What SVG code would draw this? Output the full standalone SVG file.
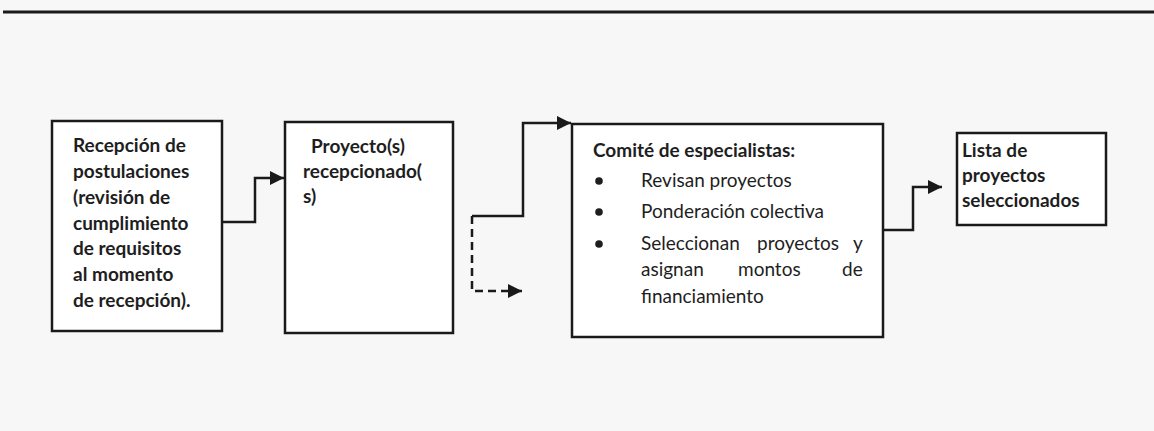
<svg xmlns="http://www.w3.org/2000/svg" width="1154" height="431" viewBox="0 0 1154 431">
<defs>
<style>
.bg{fill:#f7f7f7}
.box{fill:#ffffff;stroke:#1a1a1a;stroke-width:2.5}
.t{font-family:Lato,"Liberation Sans",sans-serif;font-size:19px;fill:#1e1e1e}
.b{font-weight:bold}
.c{fill:none;stroke:#1a1a1a;stroke-width:2.5}
.d{stroke-dasharray:8 5}
</style>
<marker id="ah" viewBox="0 0 10 10" refX="10" refY="5" markerWidth="15" markerHeight="14" markerUnits="userSpaceOnUse" orient="auto">
<path d="M0,0 L10,5 L0,10 Z" fill="#1a1a1a"/>
</marker>
</defs>
<rect class="bg" x="0" y="0" width="1154" height="431"/>
<line x1="3" y1="12" x2="1154" y2="12" stroke="#1a1a1a" stroke-width="3"/>
<g id="connectors">
<path class="c" d="M222,222 H255 V178 H284" marker-end="url(#ah)"/>
<path class="c" d="M472,216 H523 V123 H571" marker-end="url(#ah)"/>
<path class="c d" d="M472,216 V291 H522" marker-end="url(#ah)"/>
<path class="c" d="M883,230 H913 V187 H942" marker-end="url(#ah)"/>
</g>
<g id="n1">
<rect class="box" x="52" y="121" width="170" height="210"/>
<text class="t b" x="73" y="152">Recepción de</text>
<text class="t b" x="73" y="178">postulaciones</text>
<text class="t b" x="73" y="204">(revisión de</text>
<text class="t b" x="73" y="230">cumplimiento</text>
<text class="t b" x="73" y="255">de requisitos</text>
<text class="t b" x="73" y="281">al momento</text>
<text class="t b" x="73" y="307">de recepción).</text>
</g>
<g id="n2">
<rect class="box" x="285" y="122" width="168" height="211"/>
<text class="t b" x="311" y="153">Proyecto(s)</text>
<text class="t b" x="303" y="178">recepcionado(</text>
<text class="t b" x="303" y="203">s)</text>
</g>
<g id="n3">
<rect class="box" x="572" y="124" width="311" height="213"/>
<text class="t b" x="593" y="157">Comité de especialistas:</text>
<circle cx="599" cy="181" r="3.8" fill="#1e1e1e"/>
<circle cx="599" cy="212" r="3.8" fill="#1e1e1e"/>
<circle cx="599" cy="244" r="3.8" fill="#1e1e1e"/>
<text class="t" x="641" y="187">Revisan proyectos</text>
<text class="t" x="641" y="218">Ponderación colectiva</text>
<text class="t" y="250"><tspan x="641">Seleccionan</tspan><tspan x="757">proyectos</tspan><tspan x="853">y</tspan></text>
<text class="t" y="276"><tspan x="641">asignan</tspan><tspan x="738">montos</tspan><tspan x="842">de</tspan></text>
<text class="t" x="641" y="303">financiamiento</text>
</g>
<g id="n4">
<rect class="box" x="957" y="133" width="149" height="92"/>
<text class="t b" x="962" y="157">Lista de</text>
<text class="t b" x="962" y="182">proyectos</text>
<text class="t b" x="962" y="207">seleccionados</text>
</g>
</svg>
